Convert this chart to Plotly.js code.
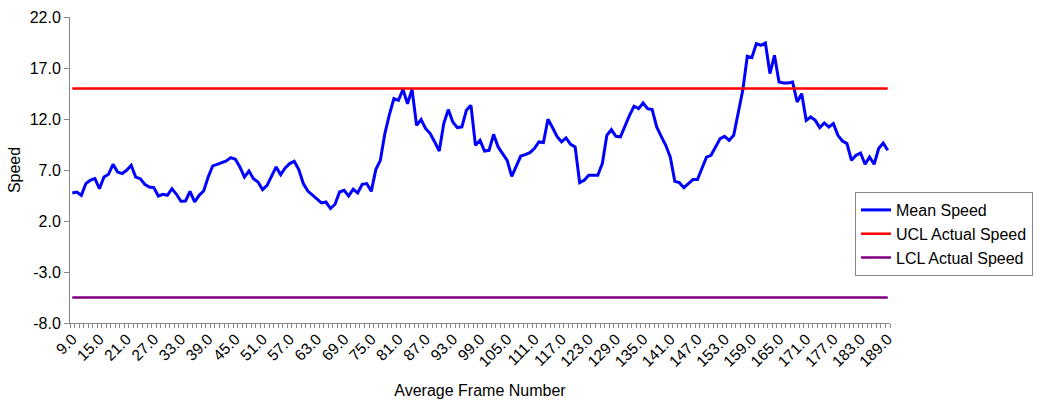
<!DOCTYPE html>
<html>
<head>
<meta charset="utf-8">
<script src="https://cdn.plot.ly/plotly-3.0.1.min.js"></script>
<style>html,body{margin:0;padding:0;background:#fff}#chart{width:1040px;height:402px}</style>
</head>
<body>
<div id="chart"></div>
<script>
// Frame numbers (categories) start at 9.0, one per frame
const firstFrame = 9;
const meanSpeed = [
4.75,4.84,4.52,5.67,6.0,6.15,5.17,6.31,6.58,7.56,
6.8,6.65,6.97,7.46,6.31,6.15,5.6,5.33,5.27,4.45,
4.62,4.52,5.17,4.62,3.93,3.96,4.91,3.86,4.52,4.94,
6.31,7.4,7.56,7.72,7.88,8.21,8.05,7.3,6.31,6.9,
6.15,5.82,5.08,5.5,6.48,7.3,6.55,7.2,7.63,7.85,
7.04,5.67,4.94,4.52,4.13,3.77,3.86,3.22,3.64,4.84,
5.01,4.45,5.11,4.75,5.6,5.67,4.91,7.04,7.95,10.57,
12.43,14.0,13.83,14.9,13.5,14.9,11.38,11.94,11.06,10.57,
9.75,8.86,11.55,12.92,11.71,11.16,11.22,12.85,13.34,9.42,
9.91,8.86,8.93,10.5,9.26,8.6,7.95,6.38,7.46,8.37,
8.5,8.7,9.1,9.75,9.69,11.97,11.16,10.3,9.75,10.14,
9.52,9.26,5.76,5.99,6.48,6.48,6.48,7.63,10.4,10.96,
10.3,10.24,11.38,12.36,13.25,13.02,13.57,13.02,12.92,11.22,
10.3,9.42,8.27,5.89,5.76,5.27,5.67,6.06,6.06,7.14,
8.27,8.44,9.26,10.08,10.3,9.91,10.4,12.53,14.81,18.15,
18.02,19.39,19.23,19.45,16.45,18.25,15.63,15.53,15.53,15.63,
13.67,14.49,11.87,12.2,11.87,11.16,11.61,11.22,11.55,10.4,
9.84,9.59,7.95,8.44,8.67,7.56,8.27,7.56,9.1,9.65,
8.93
];
const uclLevel = 15.0;
const lclLevel = -5.5;
const labelStep = 6;
const yTicks = [-8, -3, 2, 7, 12, 17, 22];

const frames = meanSpeed.map((_, i) => firstFrame + i);
const ucl = frames.map(() => uclLevel);
const lcl = frames.map(() => lclLevel);
const tickVals = frames.filter((f, i) => i % labelStep === 0);
const tickText = tickVals.map(v => v.toFixed(1));
const yTickText = yTicks.map(v => v.toFixed(1));

const font = {family: 'Liberation Sans, Arial, sans-serif', color: '#000'};
const f = s => Object.assign({size: s}, font);

const traces = [
  {x: frames, y: meanSpeed, name: 'Mean Speed', type: 'scatter', mode: 'lines',
   legendgroup: 'a', line: {color: '#0000FF', width: 3}},
  {x: frames, y: ucl, name: 'UCL Actual Speed', type: 'scatter', mode: 'lines',
   legendgroup: 'b', line: {color: '#FF0000', width: 2.5}},
  {x: frames, y: lcl, name: 'LCL Actual Speed', type: 'scatter', mode: 'lines',
   legendgroup: 'c', line: {color: '#800080', width: 2.5}}
];

const layout = {
  width: 1040, height: 402,
  margin: {l: 70, r: 150, t: 17, b: 79, pad: 0, autoexpand: false},
  paper_bgcolor: '#fff', plot_bgcolor: '#fff',
  font: f(16),
  showlegend: true,
  legend: {xref: 'container', yref: 'container', x: 855 / 1040, y: 1 - 192 / 402,
    xanchor: 'left', yanchor: 'top',
    bgcolor: '#fff', bordercolor: '#888', borderwidth: 1,
    font: f(16), itemwidth: 30, tracegroupgap: 0},
  xaxis: {
    automargin: false,
    range: [firstFrame - 0.5, firstFrame + meanSpeed.length - 0.5],
    tickmode: 'array', tickvals: tickVals, ticktext: tickText,
    tickangle: -45, ticks: '', showgrid: false, zeroline: false,
    showline: true, linecolor: '#888', linewidth: 1,
    tickfont: f(15.5),
    minor: {ticks: 'outside', dtick: 1, tick0: firstFrame - 0.5, ticklen: 4, tickcolor: '#888', showgrid: false},
    title: {text: 'Average Frame Number', font: f(16), standoff: 15}
  },
  yaxis: {
    automargin: false,
    range: [-8, 22], tickmode: 'array', tickvals: yTicks, ticktext: yTickText,
    ticks: 'outside', ticklen: 5, tickcolor: '#888',
    showgrid: false, zeroline: false, showline: true, linecolor: '#888', linewidth: 1,
    tickfont: f(16),
    title: {text: 'Speed', font: f(16), standoff: 5}
  }
};

Plotly.newPlot('chart', traces, layout, {displayModeBar: false, staticPlot: true});
</script>
</body>
</html>
